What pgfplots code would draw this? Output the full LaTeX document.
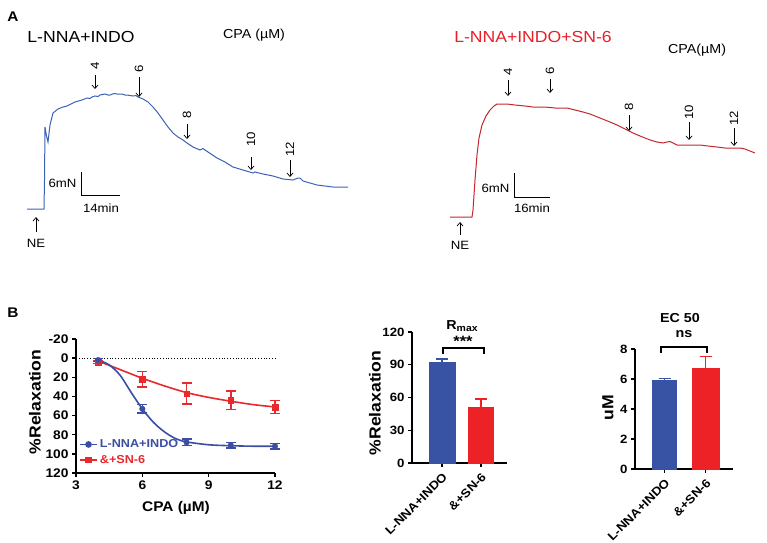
\documentclass[border=0pt]{standalone}
\usepackage{pgfplots}
\pgfplotsset{compat=1.18}
\usepackage{fontspec}
\setmainfont{Liberation Sans}[FakeStretch=1.1]
\usetikzlibrary{arrows.meta}
\definecolor{tblue}{HTML}{3D62B3}
\definecolor{tred}{HTML}{C3262C}
\definecolor{titred}{HTML}{E8202A}
\definecolor{bblue}{HTML}{3853A4}
\definecolor{bred}{HTML}{EC2227}
\definecolor{lblue}{HTML}{3B4EA3}
\definecolor{lred}{HTML}{E62A2D}
\newcommand{\fs}[1]{\fontsize{#1}{#1}\selectfont}
\pgfplotsset{
 gp/.style={scale only axis, anchor=south west, clip=false,
   axis line style={line width=1.4pt},
   tick style={line width=1.4pt, black},
   tick align=outside, major tick length=4pt,
   /pgf/number format/assume math mode=true,
   tick label style={font=\bfseries\fs{12}},
   minor tick num=0,
 }
}
\tikzset{arr/.style={-{Straight Barb[length=3.5pt,width=6pt]}, line width=0.7pt}}
\begin{document}
\begin{tikzpicture}
\path[use as bounding box] (0,0) rectangle (767pt,542pt);
% ---------- Panel A: traces (pixel coordinates) ----------
\begin{axis}[at={(0pt,0pt)}, anchor=south west, scale only axis, width=767pt, height=542pt,
  xmin=0, xmax=767, ymin=0, ymax=542, y dir=reverse, hide axis, clip=false]
\addplot[tblue, line width=1pt] coordinates {
(27,209)(44,209)(44.5,180)(45,127)(46.5,136)(48,142)(50,125)(53,113)(58,109)(63,107)(67,106)
(75,102)(82,100)(87,98)(90,98.5)(92,97)(95,96)(98,96.5)(100,95)(105,94)(108,95)(110,95)(114,93.5)(117,94)(122,94)(125,95)(127,95)
(133,96)(136,95.5)(138,97)(143,99)(148,102)(153,107)(158,113)(163,120)(168,127)(173,133)(178,137)
(183,140)(187,143)(193,147)(200,150)(203,148.5)(205,150)(208,152)(217,158)(225,162)(233,167)(243,170)
(253,173)(255,172)(263,174)(273,176)(283,179)(293,180)(298,178)(300,178)(303,181)(310,183)(317,185)
(325,186)(333,187)(340,187)(348,187)};
\addplot[tred, line width=1pt] coordinates {
(450,217)(472,217)(473,210)(475,180)(477,155)(479,138)(482,125)(486,116)(490,110)(494,106)
(497,104)(502,104)(507,104)(515,105)(525,106)(533,107)(545,107)(555,108)(567,108)(575,110)
(583,112)(590,114)(600,118)(610,122)(617,125)(625,129)(633,133)(640,136)(650,140)(657,142)
(663,143)(667,142)(670,141.5)(673,143)(677,145)(685,145)(693,145)(700,145)(708,146)(717,147)
(725,148)(733,148)(740,148)(745,149)(750,151)(755,153)};
% labels
\node[font=\bfseries\fs{14}] at (axis cs:13,17) {A};
\node[font=\fs{16}] at (axis cs:81,37) {L-NNA+INDO};
\node[font=\fs{13}] at (axis cs:254,35) {CPA (µM)};
\node[font=\fs{16}, text=titred] at (axis cs:533,37) {L-NNA+INDO+SN-6};
\node[font=\fs{13}] at (axis cs:697,50) {CPA(µM)};
% arrows trace 1
\draw[arr] (axis cs:95,75) -- (axis cs:95,89);
\node[font=\fs{12}, rotate=90] at (axis cs:95,66) {4};
\draw[arr] (axis cs:139,77) -- (axis cs:139,97);
\node[font=\fs{12}, rotate=90] at (axis cs:139,69) {6};
\draw[arr] (axis cs:187,124) -- (axis cs:187,139);
\node[font=\fs{12}, rotate=90] at (axis cs:187,115) {8};
\draw[arr] (axis cs:251,157) -- (axis cs:251,170);
\node[font=\fs{12}, rotate=90] at (axis cs:251,139) {10};
\draw[arr] (axis cs:290,160) -- (axis cs:290,177);
\node[font=\fs{12}, rotate=90] at (axis cs:290,149) {12};
% arrows trace 2
\draw[arr] (axis cs:508,80) -- (axis cs:508,96);
\node[font=\fs{12}, rotate=90] at (axis cs:508,72) {4};
\draw[arr] (axis cs:550,79) -- (axis cs:550,93);
\node[font=\fs{12}, rotate=90] at (axis cs:550,71) {6};
\draw[arr] (axis cs:629,115) -- (axis cs:629,131);
\node[font=\fs{12}, rotate=90] at (axis cs:629,107) {8};
\draw[arr] (axis cs:689,122) -- (axis cs:689,140);
\node[font=\fs{12}, rotate=90] at (axis cs:689,112) {10};
\draw[arr] (axis cs:734,128) -- (axis cs:734,146);
\node[font=\fs{12}, rotate=90] at (axis cs:734,118) {12};
% scale bars
\draw[line width=1pt] (axis cs:81,172) -- (axis cs:81,195) -- (axis cs:120,195);
\node[font=\fs{12}, anchor=east] at (axis cs:80,183) {6mN};
\node[font=\fs{12}] at (axis cs:101,208) {14min};
\draw[arr] (axis cs:36,232) -- (axis cs:36,217);
\node[font=\fs{12}] at (axis cs:36,243) {NE};
\draw[line width=1pt] (axis cs:514,173) -- (axis cs:514,197) -- (axis cs:550,197);
\node[font=\fs{12}, anchor=east] at (axis cs:513,188) {6mN};
\node[font=\fs{12}] at (axis cs:532,208) {16min};
\draw[arr] (axis cs:460,235) -- (axis cs:460,222);
\node[font=\fs{12}] at (axis cs:460,245) {NE};
% Panel B labels
\node[font=\bfseries\fs{14}] at (axis cs:13,313) {B};
\node[font=\bfseries\fs{16}, rotate=90] at (axis cs:35,402) {\%Relaxation};
\node[font=\bfseries\fs{14}] at (axis cs:176,508) {CPA (µM)};
\node[font=\bfseries\fs{16}, rotate=90] at (axis cs:375,403) {\%Relaxation};
\node[font=\bfseries\fs{13}] at (axis cs:462,326) {R\raisebox{-0.35ex}{\fs{9.5}max}};
\node[font=\bfseries\fs{15}] at (axis cs:463,341) {***};
\draw[line width=1.4pt] (axis cs:443,354) -- (axis cs:443,348) -- (axis cs:484,348) -- (axis cs:484,354);
\node[font=\bfseries\fs{13}] at (axis cs:680,318) {EC 50};
\node[font=\bfseries\fs{13}] at (axis cs:684,334) {ns};
\draw[line width=1.4pt] (axis cs:661,353) -- (axis cs:661,347) -- (axis cs:707,347) -- (axis cs:707,353);
\node[font=\bfseries\fs{16}, rotate=90] at (axis cs:608,408) {uM};
\end{axis}
% ---------- Panel B: concentration-response ----------
\begin{axis}[gp, at={(76pt,69pt)}, width=199pt, height=134pt,
  xmin=3, xmax=12, ymin=-20, ymax=120, y dir=reverse,
  axis y line*=left, axis x line*=bottom,
  tick label style={font=\bfseries\fs{12.5}},
  xtick={3,6,9,12}, ytick={-20,0,20,40,60,80,100,120},
  legend cell align=left,
  legend style={draw=none, fill=none, at={(0.0,0.28)}, anchor=north west,
    font=\bfseries\fs{11.5}, row sep=2pt}]
\addlegendimage{lblue, line width=1.6pt, mark=*, mark size=2.5pt}
\addlegendentry{\textcolor{lblue}{L-NNA+INDO}}
\addlegendimage{lred, line width=1.6pt, mark=square*, mark size=2.5pt}
\addlegendentry{\textcolor{lred}{\&+SN-6}}
\addplot[black, dotted, line width=0.8pt, forget plot] coordinates {(3,0)(12,0)};
\addplot[lred, line width=1.6pt, smooth, forget plot] coordinates {
(4,3)(5,12)(6,21)(7,29)(8,36)(9,41)(10,45)(11,48.5)(12,51)};
\addplot[lblue, line width=1.6pt, smooth, forget plot] coordinates {
(4,2)(4.5,7)(5,18)(5.5,36)(6,53)(6.5,67)(7,77)(7.5,84)(8,87.5)(9,90.5)(10,91.5)(11,92)(12,92)};
\addplot[lred, only marks, mark=square*, mark size=2.8pt, forget plot,
  error bars/.cd, y dir=both, y explicit,
  error bar style={line width=1.5pt, lred}, error mark options={rotate=90, line width=1.5pt, mark size=5pt, lred}]
  coordinates {(4,4) +- (0,1.5) (6,22) +- (0,8) (8,37) +- (0,11) (10,44) +- (0,9.5) (12,51) +- (0,7)};
\addplot[lblue, only marks, mark=*, mark size=2.8pt, forget plot,
  error bars/.cd, y dir=both, y explicit,
  error bar style={line width=1.5pt, lblue}, error mark options={rotate=90, line width=1.5pt, mark size=5pt, lblue}]
  coordinates {(4,2) +- (0,1.5) (6,53) +- (0,4.5) (8,88) +- (0,3.5) (10,91) +- (0,3) (12,92) +- (0,3)};
\end{axis}
% ---------- Panel B: Rmax ----------
\begin{axis}[gp, at={(412pt,79pt)}, width=95pt, height=131pt,
  xmin=0.231, xmax=2.667, ymin=0, ymax=120, axis lines*=left,
  ytick={0,30,60,90,120}, xtick={1,2}, xticklabels={L-NNA+INDO,\&+SN-6},
  xticklabel style={rotate=45, anchor=north east, font=\bfseries\fs{12}}]
\addplot[ybar, bar width=26pt, bar shift=0pt, fill=bblue, draw=bblue,
  error bars/.cd, y dir=plus, y explicit,
  error bar style={line width=1.5pt, bblue}, error mark options={rotate=90, line width=1.5pt, mark size=6pt, bblue}]
  coordinates {(1,92.5) +- (0,2.8)};
\addplot[ybar, bar width=25pt, bar shift=0pt, fill=bred, draw=bred,
  error bars/.cd, y dir=plus, y explicit,
  error bar style={line width=1.5pt, bred}, error mark options={rotate=90, line width=1.5pt, mark size=6pt, bred}]
  coordinates {(2,51.5) +- (0,7)};
\end{axis}
% ---------- Panel B: EC50 ----------
\begin{axis}[gp, at={(635pt,73pt)}, width=98pt, height=120pt,
  xmin=0.28, xmax=2.67, ymin=0, ymax=8, axis lines*=left,
  ytick={0,2,4,6,8}, xtick={1,2}, xticklabels={L-NNA+INDO,\&+SN-6},
  xticklabel style={rotate=45, anchor=north east, font=\bfseries\fs{12}}]
\addplot[ybar, bar width=24pt, bar shift=0pt, fill=bblue, draw=bblue,
  error bars/.cd, y dir=plus, y explicit,
  error bar style={line width=1.5pt, bblue}, error mark options={rotate=90, line width=1.5pt, mark size=6pt, bblue}]
  coordinates {(1,5.92) +- (0,0.1)};
\addplot[ybar, bar width=27pt, bar shift=0pt, fill=bred, draw=bred,
  error bars/.cd, y dir=plus, y explicit,
  error bar style={line width=1.5pt, bred}, error mark options={rotate=90, line width=1.5pt, mark size=6pt, bred}]
  coordinates {(2,6.75) +- (0,0.75)};
\end{axis}
\end{tikzpicture}
\end{document}
